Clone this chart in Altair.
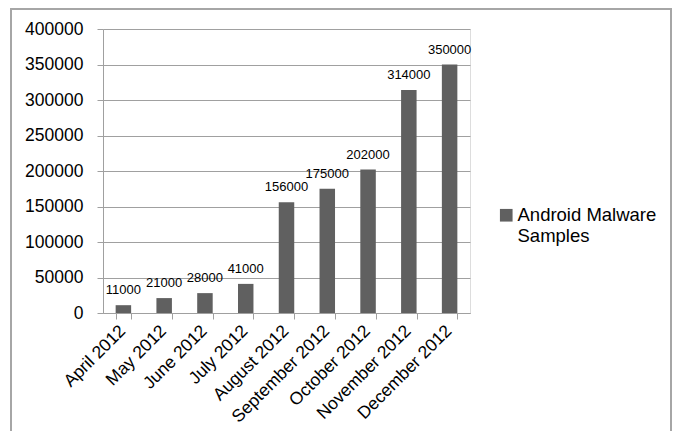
import altair as alt
import pandas as pd

months = ["April 2012", "May 2012", "June 2012", "July 2012", "August 2012",
          "September 2012", "October 2012", "November 2012", "December 2012"]
samples = [11000, 21000, 28000, 41000, 156000, 175000, 202000, 314000, 350000]
series_name = "Android Malware Samples"
y_ticks = [0, 50000, 100000, 150000, 200000, 250000, 300000, 350000, 400000]

df = pd.DataFrame({"month": months, "samples": samples, "series": [series_name] * len(months)})

FONT = "Liberation Sans"
GRID = "#a0a0a0"
BAR = "#606060"

x_enc = alt.X("month:N", sort=months, title=None,
              scale=alt.Scale(paddingInner=0.62, paddingOuter=0.31),
              axis=alt.Axis(labelAngle=-45, labelAlign="right", labelBaseline="middle",
                            labelFontSize=17.5, labelFont=FONT, labelColor="#000000",
                            labelPadding=9, labelOffset=-1, tickBand="extent", tickSize=6,
                            tickColor=GRID, domainColor=GRID, grid=False, labelOverlap=False))
y_enc = alt.Y("samples:Q", title=None,
              scale=alt.Scale(domain=[0, 400000], nice=False),
              axis=alt.Axis(values=y_ticks, format="d", labelFontSize=17.5, labelFont=FONT,
                            labelColor="#000000", labelPadding=14, tickSize=6,
                            labelOverlap=False, tickColor=GRID, domainColor=GRID,
                            gridColor=GRID, grid=True, gridOpacity=1))

base = alt.Chart(df).encode(x=x_enc, y=y_enc)

bars = base.mark_bar(color=BAR).encode(
    color=alt.Color("series:N", scale=alt.Scale(range=[BAR]),
                    legend=alt.Legend(title=None, orient="none", legendX=394, legendY=177,
                                      symbolType="square", symbolSize=160, symbolStrokeWidth=0,
                                      labelFontSize=18.5, labelFont=FONT, labelColor="#000000",
                                      labelLimit=300, labelOffset=2, labelBaseline="middle",
                                      labelExpr="['Android Malware', 'Samples']"))
)

labels = base.mark_text(baseline="bottom", dy=-8, fontSize=13, font=FONT,
                        color="#000000").encode(
    text=alt.Text("samples:Q", format="d"),
)

border = alt.Chart(df).mark_rect(fill=None, stroke="#a6a6a6", strokeWidth=1.5).encode(
    x=alt.value(-92), x2=alt.value(568), y=alt.value(-20), y2=alt.value(440)
)

chart = alt.layer(bars, labels, border).properties(
    width=367, height=284,
    autosize=alt.AutoSizeParams(type="none"),
    padding={"left": 95, "top": 21, "right": 202, "bottom": 118},
).configure_view(strokeWidth=0).configure(background="#ffffff")

chart.save("out.html", embed_options={"renderer": "svg", "actions": False})
